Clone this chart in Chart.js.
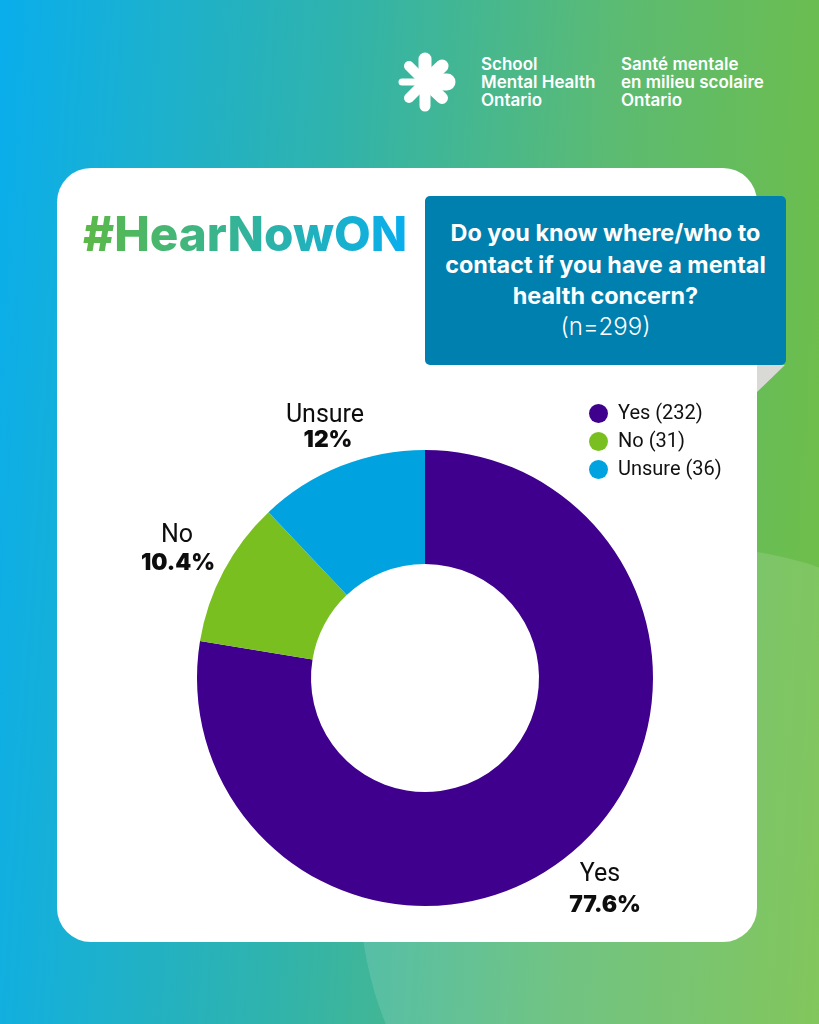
<!DOCTYPE html>
<html>
<head>
<meta charset="utf-8">
<title>HearNowON</title>
<script src="https://cdn.jsdelivr.net/npm/chart.js@4"></script>
<style>
    html, body { margin: 0; padding: 0; }
    #page {
        position: relative; width: 819px; height: 1024px; overflow: hidden;
        background: linear-gradient(94deg, #0aaeec 0%, #2fb3ad 38%, #5cbb72 70%, #70be44 100%);
        font-family: Inter, sans-serif;
    }
    #blob { position: absolute; left: 360px; top: 548px; width: 690px; height: 690px; border-radius: 50%; background: rgba(255,255,255,0.13); }
    #card { position: absolute; left: 57px; top: 168px; width: 700px; height: 774px; background: #fff; border-radius: 34px; }
    #fold { position: absolute; left: 757px; top: 365px; width: 0; height: 0; border-top: 27px solid #d9d9d6; border-right: 28px solid transparent; }
    #tag {
        position: absolute; left: 83px; top: 204px; font: 800 47.6px/60px Inter, sans-serif; white-space: nowrap;
        background: linear-gradient(90deg, #5cb947, #08aeef); -webkit-background-clip: text; background-clip: text; color: transparent;
    }
    #box {
        position: absolute; left: 425px; top: 196px; width: 361px; height: 169px; background: #0080ae; border-radius: 5px;
        color: #fff; text-align: center; font: 700 23.4px/31.5px Inter, sans-serif; padding-top: 21px; box-sizing: border-box;
    }
    #box span { display: block; font-weight: 300; font-size: 24px; line-height: 30px; }
    .logoText { position: absolute; top: 55px; color: #fff; font: 600 17px/18px Inter, sans-serif; white-space: nowrap; }
    #logo { position: absolute; left: 390px; top: 45px; }
    #chart { position: absolute; left: 0; top: 0; }
    #legend { position: absolute; left: 589px; top: 398px; font: 20px/28px Roboto, sans-serif; color: #111; }
    #legend div { white-space: nowrap; height: 28px; }
    #legend i { display: inline-block; width: 19px; height: 19px; border-radius: 50%; margin-right: 10px; vertical-align: -4px; }
</style>
</head>
<body>
<div id="page">
    <div id="blob"></div>
    <div id="card"></div>
    <div id="fold"></div>
    <svg id="logo" width="76" height="76" stroke="#fff" stroke-linecap="round">
        <line x1="35" y1="37" x2="35" y2="14" stroke-width="13"/>
        <line x1="35" y1="37" x2="35" y2="61" stroke-width="11"/>
        <line x1="35" y1="37" x2="12" y2="37" stroke-width="7"/>
        <line x1="35" y1="37" x2="57" y2="37" stroke-width="17"/>
        <line x1="35" y1="37" x2="52" y2="21" stroke-width="13"/>
        <line x1="35" y1="37" x2="52" y2="53" stroke-width="12"/>
        <line x1="35" y1="37" x2="19" y2="21" stroke-width="10"/>
        <line x1="35" y1="37" x2="19" y2="53" stroke-width="10"/>
    </svg>
    <div class="logoText" style="left:481px">School<br>Mental Health<br>Ontario</div>
    <div class="logoText" style="left:621px">Santé mentale<br>en milieu scolaire<br>Ontario</div>
    <div id="tag">#HearNowON</div>
    <div id="box">Do you know where/who to<br>contact if you have a mental<br>health concern?<span>(n=299)</span></div>
    <canvas id="chart" width="819" height="1024"></canvas>
    <div id="legend"></div>
</div>
<script>
var categories = ["Yes", "No", "Unsure"];
var counts = [232, 31, 36];
var percentLabels = ["77.6%", "10.4%", "12%"];
var colors = ["#3f008d", "#7abf20", "#00a3e0"];
var nameOffsets = [[175, 197], [-248, -142], [-100, -262]];
var percentOffsets = [[180, 227], [-247, -115], [-97, -238]];

// Legend
var legendHtml = "";
for (var i = 0; i < categories.length; i++) {
    legendHtml += '<div><i style="background:' + colors[i] + '"></i>' + categories[i] + " (" + counts[i] + ")</div>";
}
document.getElementById("legend").innerHTML = legendHtml;

// Outer labels, placed relative to the centre of the ring
var outerLabels = {
    id: "outerLabels",
    afterDraw: function (chart) {
        var ctx = chart.ctx;
        var arc = chart.getDatasetMeta(0).data[0];
        ctx.save();
        ctx.textAlign = "center";
        ctx.textBaseline = "middle";
        ctx.fillStyle = "#0d0d0d";
        for (var i = 0; i < categories.length; i++) {
            ctx.font = "25px Roboto, sans-serif";
            ctx.fillText(categories[i], arc.x + nameOffsets[i][0], arc.y + nameOffsets[i][1]);
            ctx.font = "900 22.8px Inter, sans-serif";
            ctx.fillText(percentLabels[i], arc.x + percentOffsets[i][0], arc.y + percentOffsets[i][1]);
        }
        ctx.restore();
    }
};

var ctx = document.getElementById("chart").getContext("2d");
var chart = new Chart(ctx, {
    type: "doughnut",
    data: {
        labels: categories,
        datasets: [{ data: counts, backgroundColor: colors, borderWidth: 0 }]
    },
    options: {
        responsive: false,
        animation: false,
        cutout: "50%",
        layout: { padding: { left: 197, right: 166, top: 450, bottom: 118 } },
        plugins: { legend: { display: false }, tooltip: { enabled: false } }
    },
    plugins: [outerLabels]
});
</script>
</body>
</html>
